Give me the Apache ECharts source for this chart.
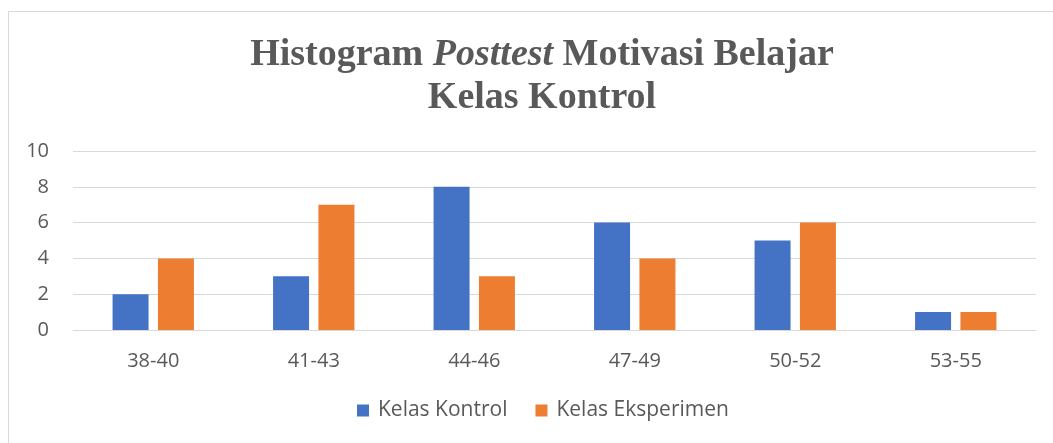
<!DOCTYPE html>
<html>
<head>
<meta charset="utf-8">
<script src="https://cdn.jsdelivr.net/npm/echarts@6/dist/echarts.min.js"></script>
<style>
	html, body { margin: 0; padding: 0; background: #ffffff; }
	#chart { width: 1053px; height: 443px; }
</style>
</head>
<body>
<div id="chart"></div>
<script>
// data
const categories = ['38-40', '41-43', '44-46', '47-49', '50-52', '53-55'];
const kontrol = [2, 3, 8, 6, 5, 1];
const eksperimen = [4, 7, 3, 4, 6, 1];
const seriesNames = ['Kelas Kontrol', 'Kelas Eksperimen'];

const chart = echarts.init(document.getElementById('chart'), null, { renderer: 'canvas' });

const textColor = '#595959';
const labelFont = '"Open Sans", "Noto Sans", sans-serif';

const option = {
	backgroundColor: '#ffffff',
	animation: false,
	color: ['#4472C4', '#ED7D31'],
	graphic: [{
		type: 'rect',
		shape: { x: 8.5, y: 11.5, width: 1100, height: 500 },
		style: { fill: 'none', stroke: '#d9d9d9', lineWidth: 1 },
		silent: true
	}],
	title: {
		left: 537,
		textAlign: 'center',
		top: 29,
		text: '{b|Histogram }{i|Posttest}{b| Motivasi Belajar}\n{b|Kelas Kontrol}',
		textStyle: {
			rich: {
				b: {
					fontFamily: '"Liberation Serif", "Times New Roman", serif',
					fontSize: 38,
					fontWeight: 'bold',
					color: textColor,
					lineHeight: 43
				},
				i: {
					fontFamily: '"Liberation Serif", "Times New Roman", serif',
					fontSize: 38,
					fontWeight: 'bold',
					fontStyle: 'italic',
					color: textColor,
					lineHeight: 43
				}
			}
		}
	},
	legend: {
		data: seriesNames,
		bottom: 17,
		left: 352,
		itemWidth: 12,
		itemHeight: 12,
		itemGap: 28,
		icon: 'rect',
		textStyle: { color: textColor, fontSize: 21, fontFamily: labelFont, padding: [0, 0, 0, 4] }
	},
	grid: {
		left: 73,
		right: 17,
		top: 151,
		bottom: 113,
		containLabel: false
	},
	xAxis: {
		type: 'category',
		data: categories,
		axisLine: { show: true, lineStyle: { color: '#d9d9d9', width: 1 } },
		axisTick: { show: false },
		axisLabel: { color: textColor, fontSize: 20, fontFamily: labelFont, margin: 21 }
	},
	yAxis: {
		type: 'value',
		min: 0,
		max: 10,
		interval: 2,
		axisLine: { show: false },
		axisTick: { show: false },
		splitLine: { lineStyle: { color: '#d9d9d9', width: 1 } },
		axisLabel: { color: textColor, fontSize: 20, fontFamily: labelFont, margin: 24 }
	},
	series: [{
		name: seriesNames[0],
		type: 'bar',
		data: kontrol,
		barWidth: 36,
		barGap: '26%'
	}, {
		name: seriesNames[1],
		type: 'bar',
		data: eksperimen,
		barWidth: 36,
		barGap: '26%'
	}]
};

chart.setOption(option);
</script>
</body>
</html>
